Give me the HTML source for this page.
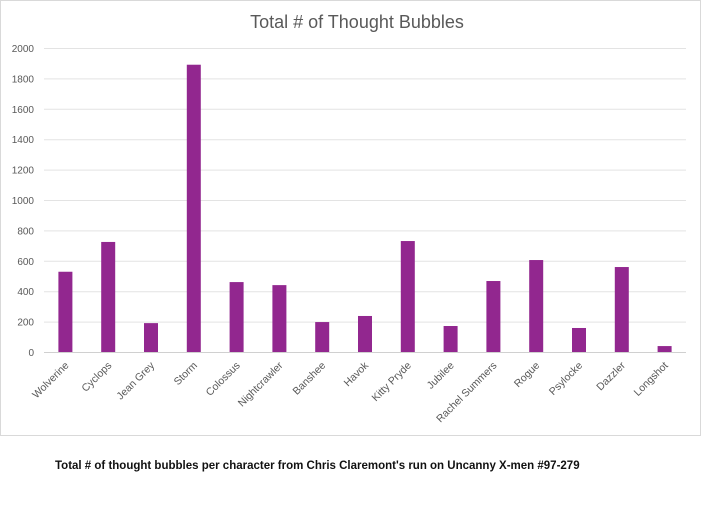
<!DOCTYPE html>
<html><head><meta charset="utf-8"><style>
body{margin:0;width:714px;height:510px;background:#fff;overflow:hidden;font-family:"Liberation Sans",sans-serif}
#cap{position:absolute;left:55px;top:460px;font-size:11.5px;font-weight:bold;color:#111;font-family:"Liberation Sans Narrow","Liberation Sans",sans-serif;letter-spacing:0}
</style></head><body>
<svg id="chart" width="714" height="510" style="position:absolute;left:0;top:0">
<rect x="0.5" y="0.5" width="700" height="435" fill="#fff" stroke="#d9d9d9"/>
<text x="357" y="28" text-anchor="middle" font-size="18" fill="#595959">Total # of Thought Bubbles</text>
<g id="grid"></g><g id="bars"></g><g id="xl"></g><g id="yl"></g>
</svg>
<div id="cap">Total # of thought bubbles per character from Chris Claremont's run on Uncanny X-men #97-279</div>
<script>
const categories=["Wolverine","Cyclops","Jean Grey","Storm","Colossus","Nightcrawler","Banshee","Havok","Kitty Pryde","Jubilee","Rachel Summers","Rogue","Psylocke","Dazzler","Longshot"];
const values=[528,724,190,1890,460,440,197,237,730,171,467,605,158,559,39];
const yTicks=[0,200,400,600,800,1000,1200,1400,1600,1800,2000];
const NS="http://www.w3.org/2000/svg";
const x0=44,x1=686,y0=352,y1=48,ymax=2000;
const bw=(x1-x0)/categories.length;
const y=v=>y0-(v/ymax)*(y0-y1);
const xc=i=>x0+bw*(i+0.5);
function mk(t,a,p){const e=document.createElementNS(NS,t);for(const k in a)e.setAttribute(k,a[k]);p.appendChild(e);return e;}
const G=document.getElementById('grid'),B=document.getElementById('bars'),XL=document.getElementById('xl'),YL=document.getElementById('yl');
yTicks.forEach(t=>{
 const l=mk('line',{x1:x0,x2:x1,y1:y(t)+0.5,y2:y(t)+0.5,stroke:t===0?'#d0d0d0':'#e3e3e3'},G);
 
 
 const tx=mk('text',{x:34,y:y(t)+4,'text-anchor':'end','font-size':10,fill:'#595959'},YL);
 tx.textContent=t;
 
 
});
values.forEach((v,i)=>{
 const r=mk('rect',{x:xc(i)-7,y:y(v),width:14,height:y0-y(v),fill:'#92278f'},B);
 
 
});
categories.forEach((c,i)=>{
 const px=xc(i)+4,py=y0+14;
 const t=mk('text',{x:px,y:py,'text-anchor':'end','font-size':10.5,fill:'#595959',transform:`rotate(-45 ${px} ${py})`},XL);
 t.textContent=c;
 
 
});
</script>
</body></html>
